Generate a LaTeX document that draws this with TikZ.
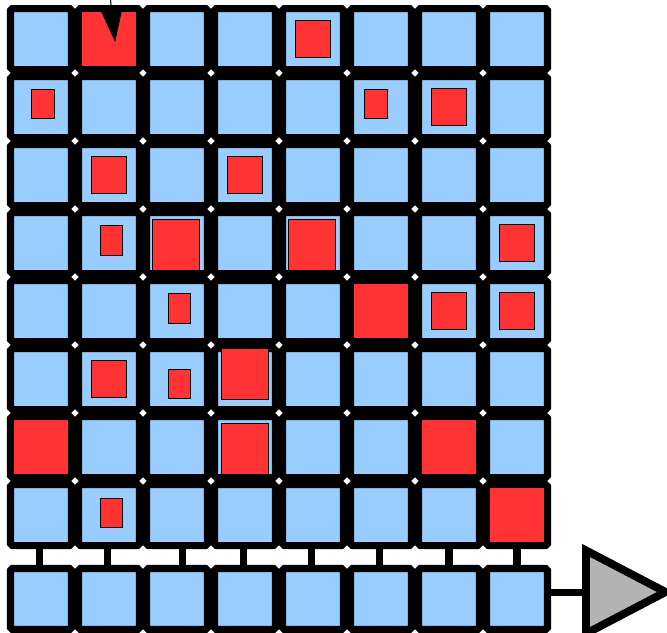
\documentclass[tikz,border=0pt]{standalone}
\usepackage{tikz}
\usetikzlibrary{arrows.meta,positioning,calc}
\definecolor{cellblue}{HTML}{99CCFF}
\definecolor{hotred}{HTML}{FF3333}
\definecolor{ampgray}{HTML}{B3B3B3}

\begin{document}
\begin{tikzpicture}[x=1.36cm, y=1.36cm,
    cell/.style={draw, line width=4pt, rounded corners=1pt, fill=cellblue, inner sep=0pt, minimum size=1.22cm},
    hot/.style={fill=hotred, inner sep=0pt, minimum size=1.08cm},
    spot/.style={draw, line width=0.6pt, fill=hotred, inner sep=0pt},
    spot s/.style={spot, minimum width=0.45cm, minimum height=0.59cm},
    spot m/.style={spot, minimum width=0.69cm, minimum height=0.73cm},
    spot l/.style={spot, minimum width=0.95cm, minimum height=1.03cm},
    link/.style={line width=4pt},
    buffer/.style={draw, line width=4.5pt, fill=ampgray}]
  \useasboundingbox (-0.603,0.574) rectangle (9.206,-8.721);

  % --- 8x8 grid and output row ---
  \foreach \r in {0,...,7}
    \foreach \c in {0,...,7}
      \node[cell] (c-\r-\c) at (\c,-\r) {};
  \foreach \c in {0,...,7}
    \node[cell] (o-\c) at (\c,-8.235) {};

  % --- fully set cells ---
  \node[hot] (h-0-1) at (c-0-1) {};
  \node[hot] (h-4-5) at (c-4-5) {};
  \node[hot] (h-6-0) at (c-6-0) {};
  \node[hot] (h-6-6) at (c-6-6) {};
  \node[hot] (h-7-7) at (c-7-7) {};

  % --- partial spots ---
  \node[spot m] (s-0-4) at (c-0-4) {};
  \node[spot s] (s-1-0) at ([xshift=1.1pt,yshift=1.7pt]c-1-0) {};
  \node[spot s] (s-1-5) at ([xshift=-2.8pt,yshift=1.7pt]c-1-5) {};
  \node[spot m] (s-1-6) at (c-1-6) {};
  \node[spot m] (s-2-1) at (c-2-1) {};
  \node[spot m] (s-2-3) at (c-2-3) {};
  \node[spot s] (s-3-1) at ([xshift=1.4pt,yshift=1.4pt]c-3-1) {};
  \node[spot l] (s-3-2) at ([xshift=-0.6pt,yshift=-1.1pt]c-3-2) {};
  \node[spot l] (s-3-4) at ([xshift=-0.6pt,yshift=-1.1pt]c-3-4) {};
  \node[spot m] (s-3-7) at (c-3-7) {};
  \node[spot s] (s-4-2) at ([xshift=1.4pt,yshift=1.4pt]c-4-2) {};
  \node[spot m] (s-4-6) at (c-4-6) {};
  \node[spot m] (s-4-7) at (c-4-7) {};
  \node[spot m] (s-5-1) at (c-5-1) {};
  \node[spot s] (s-5-2) at ([xshift=1.4pt,yshift=-2.8pt]c-5-2) {};
  \node[spot l] (s-5-3) at ([yshift=2.8pt]c-5-3) {};
  \node[spot l] (s-6-3) at ([yshift=-1.1pt]c-6-3) {};
  \node[spot s] (s-7-1) at ([xshift=1.4pt,yshift=1.1pt]c-7-1) {};

  % --- links down to the output row ---
  \foreach \c/\dx in {0/-0.9,1/-1.1,2/3.4,3/-0.6,4/-0.6,5/-0.6,6/0,7/0}
    \draw[link] ([xshift=\dx pt]c-7-\c.south) -- ([xshift=\dx pt]o-\c.north);

  % --- input arrow and output buffer ---
  \coordinate (feed) at (0.99,0.87);
  \coordinate (feedtip) at (1.09,-0.045);
  \draw[line width=0.6pt, -{Triangle[length=0.64cm, width=0.42cm]}] (feed) -- (feedtip);
  \coordinate (amp) at (8.015,-8.14);
  \draw[buffer] (8.015,-7.521) -- (9.185,-8.132) -- (8.015,-8.744) -- cycle;
  \draw[link, line width=4.5pt] (o-7.east |- amp) -- (amp);
\end{tikzpicture}
\end{document}
